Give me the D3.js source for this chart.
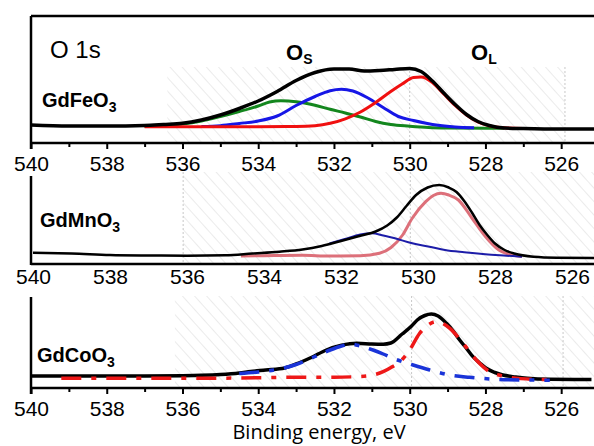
<!DOCTYPE html>
<html>
<head>
<meta charset="utf-8">
<script src="https://cdn.jsdelivr.net/npm/d3@7"></script>
<style>
  body { margin: 0; background: #fff; }
  svg { display: block; }
  .tick text { font-family: "Liberation Sans", Arial, sans-serif; }
</style>
</head>
<body>
<div id="chart"></div>
<script>
// binding energy ticks (eV)
const majorTicks = [540, 538, 536, 534, 532, 530, 528, 526];
const minorTicks = [539, 537, 535, 533, 531, 529, 527, 525];

// GdFeO3 : [binding energy, intensity a.u.]
const feTotal = [[540,18],[539,17],[538,17],[537,17.5],[536.5,18.5],[536,19.7],[535.5,23],[535,28],[534.5,34.5],
  [534,42],[533.5,51.5],[533,62.5],[532.5,70.5],[532,74],[531.6,74],[531.2,72],[530.8,72.5],[530.4,73.5],
  [530,74.5],[529.7,71.5],[529.4,62],[529.1,50],[528.8,38.5],[528.5,28.5],[528.2,21.5],[527.9,17.5],
  [527.5,15],[527,14.5],[526,14],[525,14]];
const feRed = [[537,16.3],[536,16.3],[535,16.3],[534,16.3],[533,16.5],[532.5,17.3],[532.1,19.7],[531.7,24.2],
  [531.3,31],[530.9,40.5],[530.5,51.5],[530.2,59],[529.9,65.5],[529.7,66],[529.4,60.5],[529.1,49],
  [528.8,37.5],[528.5,28],[528.2,21],[527.9,17.3],[527.5,15.2],[527,14.5]];
const feBlue = [[535.5,16.5],[535,17.3],[534.5,19.5],[534,22],[533.5,27],[533,37.5],[532.5,46.5],[532.1,52.3],
  [531.8,53.8],[531.5,52],[531.1,45],[530.7,35.5],[530.3,26.5],[529.9,22.5],[529.6,20],[529.2,17.5],
  [528.8,16],[528.3,15.2]];
const feGreen = [[537,16.5],[536.5,17.5],[536,19],[535.5,22],[535,26.5],[534.5,31.5],[534,37],[533.7,41],
  [533.4,42.3],[533,41.3],[532.5,37.7],[532.1,33.7],[531.7,30],[531.3,26],[530.9,21.5],[530.5,18.5],
  [530,16.8],[529.5,15.5],[529,15],[528,14.7],[527.5,14.7]];

// GdMnO3
const mnTotal = [[540,11.3],[539,10.5],[538,9],[537,8.5],[536,8.3],[535,8.7],[534.3,10.5],[533.6,12.3],
  [533,14.5],[532.5,18],[532,23],[531.5,28.3],[531.1,32.5],[530.8,38.5],[530.55,46.5],[530.3,58],
  [530.05,69],[529.75,76.5],[529.45,79],[529.2,76.5],[529,72],[528.8,63],[528.6,51.5],[528.4,39],
  [528.2,29],[528,20.5],[527.75,14],[527.5,10.5],[527,7.3],[526.4,6.3],[525.2,6]];
const mnRed = [[534.6,8],[534,8.3],[533,8.7],[532.3,8],[531.5,8.2],[531,10.7],[530.7,16.5],[530.4,29],
  [530.15,45.7],[529.8,62.3],[529.6,68.5],[529.4,70.7],[529.2,69],[528.95,64],[528.6,46],[528.25,27.5],
  [527.9,14],[527.55,9],[527.3,7.5]];
const mnBlue = [[532.3,20.5],[531.9,25],[531.5,29.5],[531.2,30.7],[530.9,28.5],[530.6,25.7],[530.15,20.7],
  [529.7,17.3],[529.3,14],[528.8,11.7],[528.25,9.7],[527.7,8.3],[527.3,7.3]];

// GdCoO3
const coTotal = [[540,12],[539,12],[538,12],[537,12],[536,12.3],[535.5,12.7],[535,13.5],[534.5,15],[534.2,16.5],
  [533.8,18],[533.3,20],[532.9,25.5],[532.6,30.5],[532.2,38],[531.8,42.7],[531.4,44.7],[531,44],[530.7,43.8],
  [530.5,45],[530.2,54],[529.95,62],[529.8,68],[529.6,72.5],[529.43,74],[529.25,72],[529.03,64.7],
  [528.85,57],[528.68,48],[528.5,39.5],[528.33,31.3],[528.15,25],[527.98,19.7],[527.75,15.5],[527.54,13],
  [527.2,11],[526.9,9.7],[526.3,8.7],[525.2,8.5]];
const coRed = [[539.2,9.7],[538,9.7],[537,9.7],[536,9.7],[535,9.8],[534,10.2],[533.3,10.7],[532.5,10.7],
  [532,10.7],[531.5,11.2],[531.1,12.2],[530.7,16.3],[530.45,21.5],[530.25,26.5],[530,38],[529.75,54],
  [529.55,62],[529.3,66.3],[529.1,64],[528.94,59.7],[528.59,44.7],[528.24,28],[527.89,16.3],[527.6,12.5],
  [527.36,10.7],[526.75,8.7],[526.2,8.3]];
const coBlue = [[534.5,14.5],[534,16],[533.5,18.5],[533,23.5],[532.5,31.5],[532.1,38],[531.8,42],[531.58,44],
  [531.3,42],[530.97,38],[530.7,34],[530.44,29.7],[529.91,23],[529.47,18],[528.94,13],[528.42,10.7],
  [527.71,8.7],[527.01,8],[526.3,7.8]];

const W = 594, H = 446;
const font = '"Liberation Sans", Arial, sans-serif';

const svg = d3.select("#chart").append("svg")
  .attr("width", W).attr("height", H);

// faint diagonal hatching seen in the background of the figure
const defs = svg.append("defs");
defs.append("pattern")
  .attr("id", "hatch")
  .attr("patternUnits", "userSpaceOnUse")
  .attr("width", 9).attr("height", 9)
  .attr("patternTransform", "rotate(-42)")
  .append("line")
  .attr("x1", 0).attr("y1", 0).attr("x2", 0).attr("y2", 9)
  .attr("stroke", "#d8d8d8").attr("stroke-width", 1);

// panel layout
const panels = [
  { name: "Fe", axisY: 143, top: 16, x0: 31, x1: 595.1, left: 31, frameTop: true, ticks: true,
    hatch: [536.4, 525.9, 67], dots: [530, 525.9],
    series: [
      { data: feGreen, color: "#13861d", width: 3 },
      { data: feBlue, color: "#1616e6", width: 3 },
      { data: feRed, color: "#f01010", width: 3 },
      { data: feTotal, color: "#000", width: 3.5 }
    ] },
  { name: "Mn", axisY: 264, top: 176, x0: 33, x1: 600, left: 31, frameTop: false, ticks: false,
    hatch: [536.1, 524, 172], dots: [536.1, 530.2],
    series: [
      { data: mnRed, color: "#d9606c", width: 3, opacity: 0.9 },
      { data: mnBlue, color: "#1c1ca8", width: 2 },
      { data: mnTotal, color: "#000", width: 2.5 }
    ] },
  { name: "Co", axisY: 388, top: 297, x0: 31, x1: 595.4, left: 31, frameTop: false, ticks: true,
    hatch: [536.2, 524, 296], dots: [529.95, 525.95],
    series: [
      { data: coTotal, color: "#000", width: 3.5 },
      { data: coRed, color: "#ee1818", width: 3.5, dash: "20,10,5,10" },
      { data: coBlue, color: "#1a34d8", width: 3.5, dash: "20,10,5,10" }
    ] }
];

panels.forEach(function (p) {
  const x = d3.scaleLinear().domain([540, 540 - (p.x1 - p.x0) / (p.name === "Mn" ? 38.5 : 37.87)])
    .range([p.x0, p.x1]);
  // intensity scale: values are heights above the axis line
  const y = d3.scaleLinear().domain([0, 100]).range([p.axisY, p.axisY - 100]);
  const g = svg.append("g");

  // hatched background
  g.append("rect")
    .attr("x", x(p.hatch[0])).attr("y", p.hatch[2])
    .attr("width", Math.min(W, x(p.hatch[1])) - x(p.hatch[0]))
    .attr("height", p.axisY - p.hatch[2])
    .attr("fill", "url(#hatch)");
  p.dots.forEach(function (d) {
    g.append("line")
      .attr("x1", x(d)).attr("x2", x(d))
      .attr("y1", p.hatch[2]).attr("y2", p.axisY)
      .attr("stroke", "#c8c8c8").attr("stroke-width", 1)
      .attr("stroke-dasharray", "2,2");
  });

  // axis with labels
  const axis = g.append("g")
    .attr("transform", "translate(0," + p.axisY + ")")
    .call(d3.axisBottom(x)
      .tickValues(majorTicks)
      .tickFormat(d3.format("d"))
      .tickSize(p.ticks ? 6 : 0)
      .tickPadding(p.ticks ? 7 : 5)
      .tickSizeOuter(0));
  axis.select(".domain").remove();
  axis.selectAll(".tick line").attr("stroke", "#000").attr("stroke-width", 2);
  axis.selectAll(".tick text")
    .attr("fill", "#000")
    .style("font-size", "21px");

  if (p.ticks) {
    const minor = g.append("g")
      .attr("transform", "translate(0," + p.axisY + ")")
      .call(d3.axisBottom(x).tickValues(minorTicks).tickFormat("").tickSize(4).tickSizeOuter(0));
    minor.select(".domain").remove();
    minor.selectAll(".tick line").attr("stroke", "#000").attr("stroke-width", 2);
  }

  // frame
  g.append("line")
    .attr("x1", p.left).attr("x2", W)
    .attr("y1", p.axisY).attr("y2", p.axisY)
    .attr("stroke", "#000").attr("stroke-width", 2.5);
  g.append("line")
    .attr("x1", p.left).attr("x2", p.left)
    .attr("y1", p.top).attr("y2", p.axisY + (p.ticks ? 6 : 1))
    .attr("stroke", "#000").attr("stroke-width", 2.5);
  if (p.frameTop) {
    g.append("line")
      .attr("x1", p.left).attr("x2", W)
      .attr("y1", p.top).attr("y2", p.top)
      .attr("stroke", "#000").attr("stroke-width", 2.5);
  }

  // spectra
  const line = d3.line()
    .x(function (d) { return x(d[0]); })
    .y(function (d) { return y(d[1]); })
    .curve(d3.curveMonotoneX);

  p.series.forEach(function (s) {
    g.append("path")
      .datum(s.data)
      .attr("d", line)
      .attr("fill", "none")
      .attr("stroke", s.color)
      .attr("stroke-width", s.width)
      .attr("stroke-opacity", s.opacity || 1)
      .attr("stroke-linejoin", "round")
      .attr("stroke-dasharray", s.dash || null);
  });
});

// labels
function formula(xp, yp, main, sub) {
  const t = svg.append("text")
    .attr("x", xp).attr("y", yp)
    .attr("font-family", font)
    .attr("font-weight", "bold")
    .attr("font-size", 20)
    .text(main);
  t.append("tspan").attr("font-size", 14).attr("dy", 5).text(sub);
}
formula(42, 107, "GdFeO", "3");
formula(40, 227, "GdMnO", "3");
formula(37, 362, "GdCoO", "3");

svg.append("text")
  .attr("x", 50).attr("y", 58)
  .attr("font-family", font).attr("font-size", 24)
  .text("O 1s");

function oLabel(xp, sub) {
  const t = svg.append("text")
    .attr("x", xp).attr("y", 60)
    .attr("font-family", font).attr("font-weight", "bold")
    .attr("font-size", 22)
    .text("O");
  t.append("tspan").attr("font-size", 14).attr("dy", 4).text(sub);
}
oLabel(286, "S");
oLabel(471, "L");

svg.append("text")
  .attr("x", 319).attr("y", 439)
  .attr("text-anchor", "middle")
  .attr("font-family", '"Open Sans", "Noto Sans", sans-serif')
  .attr("font-size", 20)
  .text("Binding energy, eV");
</script>
</body>
</html>
